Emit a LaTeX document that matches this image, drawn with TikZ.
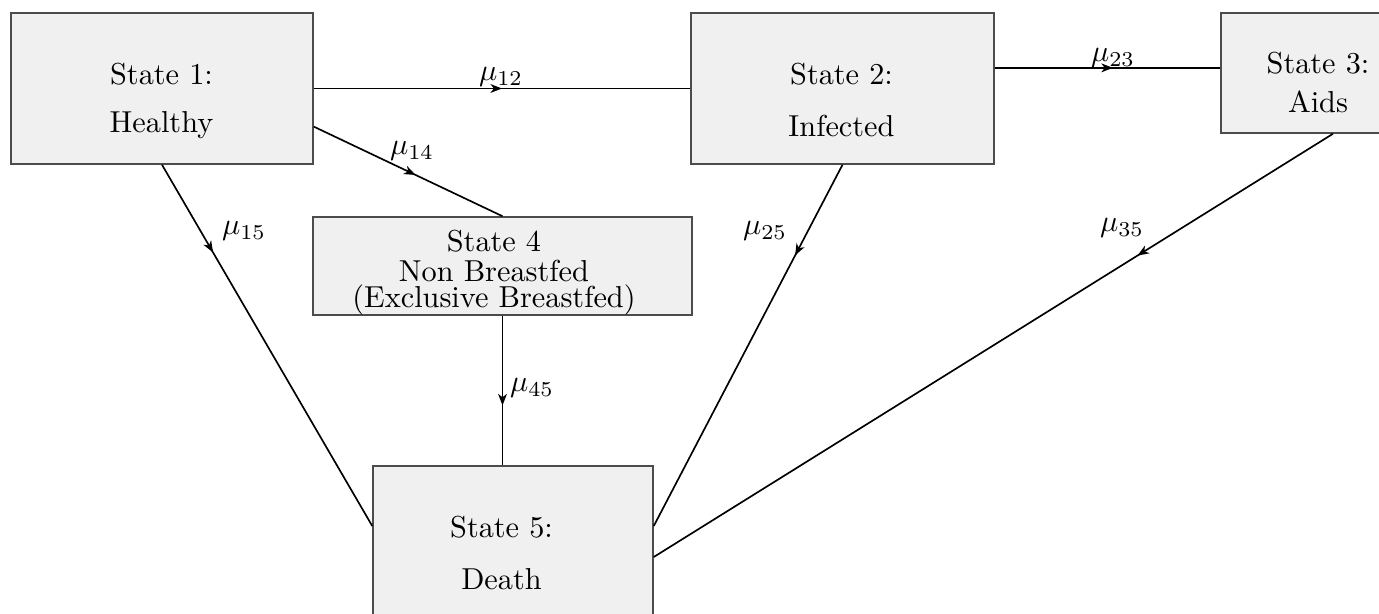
\documentclass[tikz,border=0pt]{standalone}
\usetikzlibrary{arrows.meta,decorations.markings,calc}
\begin{document}
\begin{tikzpicture}[x=0.33pt,y=-0.33pt,
  statebox/.style={draw=black!70, fill=black!6, line width=0.5pt, rectangle, inner sep=0pt},
  statetext/.style={align=center, inner sep=0pt},
  flow/.style={draw=black, line width=0.55pt},
  tipat/.style={postaction={decorate}, decoration={markings,
      mark=at position #1 with {\arrow{Stealth[length=3.8pt,width=2.9pt,inset=1.1pt]}}}},
  rate/.style={inner sep=0pt, anchor=base}]
\useasboundingbox (0,0) rectangle (1379,614);
\clip (0,0) rectangle (1379,614);

% state boxes
\node[statebox, minimum width=99.66pt, minimum height=49.83pt] (s1) at (162,88.5) {};
\node[statebox, minimum width=99.99pt, minimum height=49.83pt] (s2) at (842.5,88.5) {};
\node[statebox, minimum width=64.02pt, minimum height=39.6pt] (s3) at (1318,73) {};
\node[statebox, minimum width=125.07pt, minimum height=32.34pt] (s4) at (502.5,266) {};
\node[statebox, minimum width=92.4pt, minimum height=57.42pt] (s5) at (513,553) {};

% state labels
\node[statetext] (s1t) at (161.5,101.25) {State 1:\\[3.84pt]Healthy};
\node[statetext] (s2t) at (841.5,100.3) {State 2:\\[5.16pt]Infected};
\node[statetext] (s3t) at (1318,82.8) {State 3:\\[0.87pt]Aids};
\node[statetext] (s4t) at (494,272.6) {State 4\\[-2.1pt]Non Breastfed\\[-3.55pt](Exclusive Breastfed)};
\node[statetext] (s5t) at (501.5,553.3) {State 5:\\[5.16pt]Death};

% transitions
\coordinate (c14) at ($(s1.east)!0.5!(s1.south east)$);
\coordinate (c23) at (s3.177.5);
\coordinate (c15) at ($(s5.west)+(0,-27)$);
\coordinate (c25) at ($(s5.east)+(0,-27)$);
\coordinate (c35a) at ($(s3.south)+(15,0)$);
\coordinate (c35b) at ($(s5.east)+(0,4)$);

\draw[flow, tipat=0.5] (s1.east) -- (s2.west);
\draw[flow, tipat=0.524] (s2.east |- c23) -- (c23);
\draw[flow, tipat=0.54] (c14) -- (s4.north);
\draw[flow, tipat=0.243] (s1.south) -- (c15);
\draw[flow, tipat=0.251] (s2.south) -- (c25);
\draw[flow, tipat=0.288] (c35a) -- (c35b);
\draw[flow, tipat=0.6] (s4.south) -- (s4.south |- s5.north);

% transition rates
\node[rate] (r12) at (501,81) {$\mu_{12}$};
\node[rate] (r23) at (1113,62) {$\mu_{23}$};
\node[rate] (r14) at (412,155) {$\mu_{14}$};
\node[rate] (r15) at (244,235) {$\mu_{15}$};
\node[rate] (r25) at (765,235) {$\mu_{25}$};
\node[rate] (r35) at (1122,232) {$\mu_{35}$};
\node[rate] (r45) at (532,392) {$\mu_{45}$};
\end{tikzpicture}
\end{document}
